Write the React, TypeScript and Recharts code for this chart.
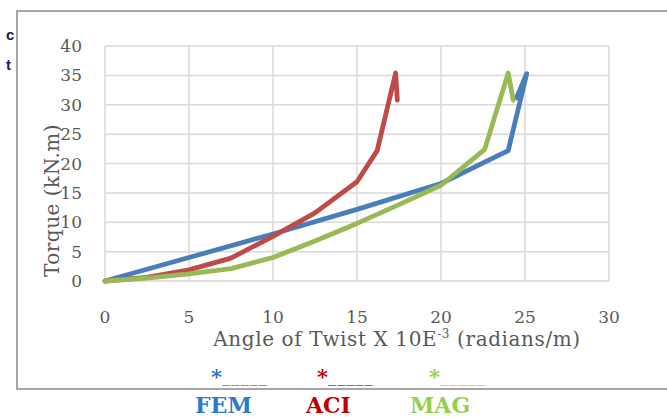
import React from "react";
import { LineChart, Line, XAxis, YAxis, CartesianGrid } from "recharts";

// angle of twist (x 10E-3 rad/m) and torque (kN.m)
const femAngle = [0, 5, 10, 15, 20, 24, 25.1, 24.5];
const femTorque = [0, 4, 8, 12.2, 16.6, 22.2, 35.3, 31.2];

const aciAngle = [0, 2.5, 5, 7.5, 10, 12.5, 15, 16.2, 17.3, 17.4];
const aciTorque = [0, 0.6, 1.9, 3.9, 7.6, 11.6, 16.9, 22.2, 35.4, 30.8];

const magAngle = [0, 2.5, 5, 7.5, 10, 12.5, 15, 17.5, 20, 22.6, 24, 24.3];
const magTorque = [0, 0.5, 1.2, 2.1, 4, 6.8, 9.8, 13, 16.3, 22.4, 35.4, 30.8];

const xTicks = [0, 5, 10, 15, 20, 25, 30];
const yTicks = [0, 5, 10, 15, 20, 25, 30, 35, 40];

const zip = (xs: number[], ys: number[]) => xs.map((x, i) => ({ angle: x, torque: ys[i] }));

const series = [
  { name: "FEM", data: zip(femAngle, femTorque), stroke: "#4a7ebb", text: "#2a7bc9", star: "#2e74b5", legendX: 211, nameX: 195 },
  { name: "ACI", data: zip(aciAngle, aciTorque), stroke: "#be4b48", text: "#c00000", star: "#c00000", legendX: 317, nameX: 306 },
  { name: "MAG", data: zip(magAngle, magTorque), stroke: "#98b954", text: "#92d050", star: "#92d050", legendX: 429, nameX: 410 },
];

const axisFont = "'DejaVu Serif', serif";
const grey = "#595959";

const XTitle = (props: any) => {
  const { viewBox } = props;
  const cx = viewBox.x + viewBox.width / 2 + 40;
  return (
    <text x={cx} y={viewBox.y + 65} textAnchor="middle" fill={grey} fontFamily={axisFont} fontSize={20} letterSpacing={0.6}>
      Angle of Twist X 10E
      <tspan fontSize={12} dy={-8}>-3</tspan>
      <tspan dy={8}> (radians/m)</tspan>
    </text>
  );
};

const YTitle = (props: any) => {
  const { viewBox } = props;
  const cx = 52;
  const cy = viewBox.y + viewBox.height / 2 + 37;
  return (
    <text x={cx} y={cy} transform={`rotate(-90 ${cx} ${cy})`} textAnchor="middle" dominantBaseline="central"
      fill={grey} fontFamily={axisFont} fontSize={20} letterSpacing={0.5}>
      Torque (kN.m)
    </text>
  );
};

export default function App() {
  return (
    <div style={{ position: "absolute", left: 0, top: 0, width: 667, height: 417, overflow: "hidden", background: "#fff" }}>
      <div style={{ position: "absolute", left: 6, top: 20, fontFamily: "'Liberation Sans', sans-serif", fontWeight: "bold", fontSize: 15, lineHeight: "30px", color: "#1c1c5a" }}>
        <div>c</div>
        <div>t</div>
      </div>
      <div style={{ position: "absolute", left: 16, top: 10, width: 700, height: 376, border: "2px solid #a6a6a6" }} />
      <div style={{ position: "absolute", left: 0, top: 0 }}>
        <LineChart width={667} height={417} data={series[0].data} margin={{ top: 46, right: 58, bottom: 76, left: 45 }}>
          <CartesianGrid stroke="#d9d9d9" strokeWidth={1.5} />
          <XAxis type="number" dataKey="angle" domain={[0, 30]} ticks={xTicks} axisLine={false} tickLine={false}
            tickSize={0} tickMargin={30} height={60} tick={{ fill: grey, fontFamily: axisFont, fontSize: 17 }}
            label={<XTitle />} />
          <YAxis type="number" domain={[0, 40]} ticks={yTicks} axisLine={false} tickLine={false} tickSize={0}
            tickMargin={23} width={60} tick={{ fill: grey, fontFamily: axisFont, fontSize: 17 }}
            label={<YTitle />} />
          {series.map((s) => (
            <Line key={s.name} data={s.data} dataKey="torque" type="linear" stroke={s.stroke} strokeWidth={4.8}
              dot={false} isAnimationActive={false} strokeLinejoin="round" strokeLinecap="round" />
          ))}
        </LineChart>
      </div>
      {series.map((s) => (
        <React.Fragment key={s.name}>
          <div style={{ position: "absolute", left: s.legendX, top: 362, fontFamily: axisFont, fontSize: 16, letterSpacing: 1.2, color: s.star, whiteSpace: "nowrap" }}>
            <span style={{ fontSize: 21, fontWeight: "bold", letterSpacing: 0, position: "relative", top: 2 }}>*</span>_____
          </div>
          <div style={{ position: "absolute", left: s.nameX, top: 392, fontFamily: axisFont, fontWeight: "bold", fontSize: 22, color: s.text }}>
            {s.name}
          </div>
        </React.Fragment>
      ))}
    </div>
  );
}
